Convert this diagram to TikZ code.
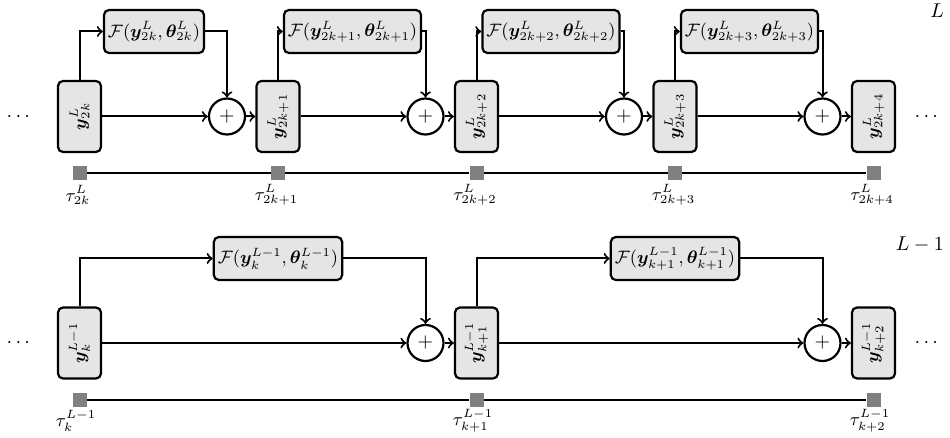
\documentclass[tikz,border=0pt]{standalone}
\usepackage{amsmath,amssymb,bm}
\usetikzlibrary{positioning, arrows}
\tikzstyle{state}=[draw, line width=1.1pt, rounded corners=2.5pt, fill=gray!20, minimum width=21.5pt, minimum height=35.5pt, inner sep=1pt, font=\small]
\tikzstyle{func}=[draw, line width=1.1pt, rounded corners=2.5pt, fill=gray!20, minimum height=21.5pt, inner sep=2pt, font=\small]
\tikzstyle{sum}=[circle, draw, line width=1.1pt, fill=white, minimum size=18pt, inner sep=0pt]
\tikzstyle{tick}=[fill=black!50, minimum size=7pt, inner sep=0pt]
\tikzstyle{flow}=[->, line width=1pt]

\begin{document}
\begin{tikzpicture}[x=0.5pt, y=-0.5pt, >=to]
			\useasboundingbox (0,0) rectangle (950,438);
			% level L
			\foreach \i/\s in {0/2k,1/2k+1,2/2k+2,3/2k+3,4/2k+4} {
				\node[state] (y\i) at (79.5+198.5*\i, 116.5) {\rotatebox{90}{$\bm{y}^L_{\s}$}};
				\node[tick] (t\i) at (79.5+198.5*\i, 173) {};
				\node[font=\small] (tl\i) at (78+198.5*\i, 195) {$\tau^L_{\s}$};
			}
			\foreach \i/\s in {0/2k,1/2k+1,2/2k+2,3/2k+3} {
				\node[sum] (c\i) at (227+198.5*\i, 116.5) {$+$};
				\node[func] (f\i) at (154+198.5*\i, 31.5) {$\mathcal{F}(\bm{y}^L_{\s},\bm{\theta}^L_{\s})$};
			}
			\foreach \i [count=\j] in {0,...,3} {
				\draw[flow] (y\i.north) |- (f\i);
				\draw[flow] (f\i) -| (c\i);
				\draw[flow] (y\i) -- (c\i);
				\draw[flow] (c\i) -- (y\j);
			}
			\draw[semithick] (t0) -- (t1) -- (t2) -- (t3) -- (t4);
			\node (d0) at (20, 117) {$\cdots$};
			\node (d1) at (928, 117) {$\cdots$};
			\node[anchor=east] (lvl0) at (951, 11) {$L$};

			% level L-1
			\foreach \i/\s in {0/k,1/k+1,2/k+2} {
				\node[state] (z\i) at (79.5+397*\i, 343) {\rotatebox{90}{$\bm{y}^{L-1}_{\s}$}};
				\node[tick] (s\i) at (79.5+397*\i, 400) {};
				\node[font=\small] (sl\i) at (76+397*\i, 421) {$\tau^{L-1}_{\s}$};
			}
			\foreach \i/\s in {0/k,1/k+1} {
				\node[sum] (e\i) at (425.5+397*\i, 343) {$+$};
				\node[func] (g\i) at (278+397*\i, 258.5) {$\mathcal{F}(\bm{y}^{L-1}_{\s},\bm{\theta}^{L-1}_{\s})$};
			}
			\foreach \i [count=\j] in {0,1} {
				\draw[flow] (z\i.north) |- (g\i);
				\draw[flow] (g\i) -| (e\i);
				\draw[flow] (z\i) -- (e\i);
				\draw[flow] (e\i) -- (z\j);
			}
			\draw[semithick] (s0) -- (s1) -- (s2);
			\node (d2) at (20, 343) {$\cdots$};
			\node (d3) at (928, 343) {$\cdots$};
			\node[anchor=east] (lvl1) at (951, 245) {$L-1$};
		\end{tikzpicture}
\end{document}
